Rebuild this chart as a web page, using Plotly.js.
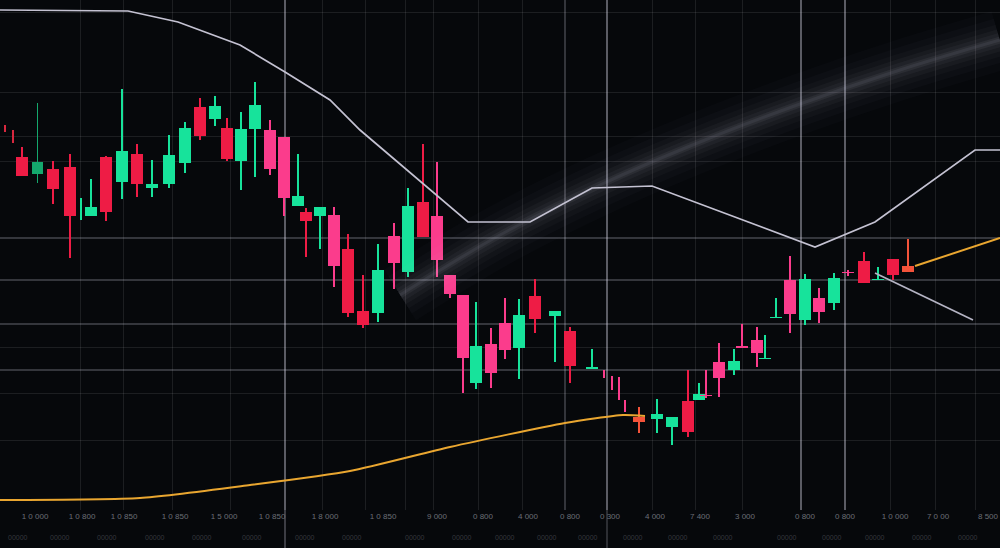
<!DOCTYPE html>
<html>
<head>
<meta charset="utf-8">
<script src="https://cdn.plot.ly/plotly-3.0.1.min.js"></script>
<style>
  html, body { margin: 0; padding: 0; background: #06080b; }
  #chart { width: 1000px; height: 548px; }
</style>
</head>
<body>
<div id="chart"></div>
<script>
// ---------------- DATA ----------------
const t = [0.5, 1.3, 2.2, 3.75, 5.3, 7.0, 8.1, 9.1, 10.6, 12.2, 13.7, 15.2, 16.9, 18.5, 20.0, 21.5, 22.7, 24.1, 25.5,
  27.0, 28.4, 29.8, 30.6, 32.0, 33.4, 34.8, 36.3, 37.8, 39.4, 40.8, 42.3, 43.7, 45.0, 46.3, 47.6, 49.1, 50.5, 51.9,
  53.5, 55.5, 57.0, 59.2, 60.4, 61.2, 61.9, 62.5, 63.9, 65.7, 67.2, 68.8, 69.9, 70.6, 71.9, 73.4, 74.2, 75.7, 76.5,
  77.6, 79.0, 80.5, 81.9, 83.4, 84.8, 86.4, 87.8, 89.3, 90.8];
const open = [38.2, 37.4, 35.3, 33.6, 34.1, 34.3, 30.5, 29.4, 35.3, 32.8, 35.6, 32.2, 32.6, 34.7, 40.3, 39.1, 38.2, 34.9, 38.1,
  38.0, 37.3, 30.4, 29.8, 29.4, 29.5, 26.1, 19.9, 19.7, 27.4, 23.8, 30.8, 29.4, 23.5, 21.5, 12.7, 16.6, 18.7, 16.2,
  21.4, 19.4, 17.9, 14.1, 13.5, 12.7, 12.0, 10.4, 9.3, 9.1, 8.3, 10.9, 11.0, 11.5, 14.8, 14.0, 16.4, 17.0, 15.1,
  19.2, 23.0, 19.0, 21.2, 20.7, 23.8, 24.9, 23.0, 25.1, 24.4];
const high = [38.5, 38.0, 36.3, 40.7, 34.9, 35.6, 31.2, 33.1, 35.4, 42.1, 36.6, 35.0, 37.5, 38.8, 41.2, 41.4, 39.2, 39.8, 42.8,
  39.0, 37.3, 35.6, 30.2, 30.3, 30.3, 27.6, 23.5, 26.6, 28.7, 32.2, 36.6, 34.8, 23.5, 21.5, 20.8, 18.2, 21.2, 21.1,
  23.1, 19.9, 18.3, 16.1, 14.0, 13.4, 13.3, 11.0, 10.3, 11.1, 9.3, 14.0, 12.7, 14.0, 16.7, 16.1, 18.6, 18.3, 17.5,
  21.2, 25.4, 23.6, 22.2, 23.7, 24.0, 25.8, 24.3, 25.1, 27.1];
const low = [37.8, 36.7, 33.4, 32.7, 30.6, 25.2, 29.0, 29.4, 28.9, 31.1, 31.3, 31.3, 32.2, 33.7, 37.0, 38.4, 34.9, 32.0, 33.3,
  33.5, 29.4, 30.4, 25.3, 26.1, 22.3, 19.3, 18.2, 18.8, 22.1, 23.3, 27.3, 23.3, 21.2, 11.7, 12.1, 12.2, 15.1, 13.1,
  17.7, 14.8, 12.7, 14.1, 13.2, 12.0, 11.0, 9.8, 7.7, 7.7, 6.5, 7.3, 11.0, 11.2, 11.3, 13.5, 16.2, 14.3, 15.1,
  19.2, 17.7, 18.5, 18.7, 20.0, 23.4, 22.7, 23.0, 23.0, 23.8];
const close = [38.2, 37.4, 33.4, 34.8, 32.1, 29.4, 30.5, 30.3, 29.8, 35.9, 32.6, 32.6, 35.5, 38.2, 37.4, 40.4, 35.1, 38.1, 40.5,
  34.1, 31.2, 31.4, 28.9, 30.3, 24.4, 19.7, 18.5, 24.0, 24.7, 30.4, 27.3, 25.0, 21.6, 15.2, 16.4, 13.7, 16.0, 19.5,
  19.1, 19.9, 14.4, 14.3, 13.5, 12.7, 12.0, 10.4, 8.8, 9.6, 9.3, 7.8, 11.6, 11.4, 13.2, 14.9, 16.2, 15.7, 15.2,
  19.3, 19.6, 23.1, 19.8, 23.2, 23.7, 22.7, 23.1, 23.5, 23.8];

// Overlay lines
const greyT = [0, 12.8, 17.8, 24.0, 28.5, 33.0, 36.0, 46.8, 53.0, 59.2, 65.2, 81.5, 87.5, 97.5, 100];
const greyV = [50.0, 49.9, 48.8, 46.5, 43.8, 41.0, 38.0, 28.8, 28.8, 32.2, 32.4, 26.3, 28.8, 36.0, 36.0];
const grey2T = [87.5, 97.3];
const grey2V = [23.7, 19.0];
const orangeT = [0, 14.0, 25.0, 35.0, 45.0, 56.5, 62.3, 64.5, null, 91.5, 100];
const orangeV = [1.0, 1.2, 2.5, 3.9, 6.3, 8.7, 9.5, 9.4, null, 24.4, 27.2];
const beamT = [40, 50, 60, 70, 80, 90, 100];
const beamV = [21.5, 27.5, 32.5, 36.8, 40.6, 44.0, 47.0];

// Tick labels
const tickT = [3.5, 8.2, 12.4, 17.5, 22.4, 27.2, 32.5, 38.3, 43.7, 48.3, 52.8, 57.0, 61.0, 65.5, 70.0, 74.5, 80.5, 84.5, 89.5, 93.8, 98.8];
const tickText = ["1 0 000", "1 0 800", "1 0 850", "1 0 850", "1 5 000", "1 0 850", "1 8 000", "1 0 850", "9 000", "0 800",
  "4 000", "0 800", "0 300", "4 000", "7 400", "3 000", "0 800", "0 800", "1 0 000", "7 0 00", "8 500"];
const subT = [1.8, 6.0, 10.7, 15.5, 20.2, 25.2, 30.5, 35.2, 41.5, 46.2, 50.5, 54.7, 58.8, 63.3, 67.8, 72.3, 78.7, 83.2, 87.5, 92.2, 96.8];
const subText = ["00000", "00000", "00000", "00000", "00000", "00000", "00000", "00000", "00000", "00000",
  "00000", "00000", "00000", "00000", "00000", "00000", "00000", "00000", "00000", "00000", "00000"];

// ---------------- STYLE ----------------
const GREEN = '#17e39b', DARK_GREEN = '#14a86d', RED = '#ee1c45', PINK = '#fb3c8c', ORANGE_RED = '#f4533a';
const PINK_IDX = new Set([19, 20, 24, 28, 31, 32, 33, 35, 36, 42, 43, 44, 45, 51, 52, 54, 55, 58, 60, 62]);
const RED_IDX = new Set([0, 1]);
const ORANGE_IDX = new Set([46, 66]);
const DARK_IDX = new Set([3]);
const colors = t.map((_, i) => {
  if (ORANGE_IDX.has(i)) return ORANGE_RED;
  if (DARK_IDX.has(i)) return DARK_GREEN;
  if (RED_IDX.has(i)) return '#d8283f';
  if (PINK_IDX.has(i)) return PINK;
  if (close[i] >= open[i]) return GREEN;
  return RED;
});

const traces = [];
// soft light beam (layered for blur)
[[60, 0.018], [44, 0.022], [32, 0.028], [22, 0.035], [14, 0.045], [7, 0.06], [3, 0.07]].forEach(([w, a]) => {
  traces.push({ type: 'scatter', mode: 'lines', x: beamT, y: beamV, hoverinfo: 'skip',
    line: { color: `rgba(215,215,235,${a})`, width: w, shape: 'spline' } });
});
traces.push({ type: 'scatter', mode: 'lines', x: orangeT, y: orangeV, hoverinfo: 'skip',
  line: { color: '#e9a630', width: 2, shape: 'spline', smoothing: 0.6 } });
traces.push({ type: 'scatter', mode: 'lines', x: greyT, y: greyV, hoverinfo: 'skip',
  line: { color: '#c4c2d2', width: 1.7 } });
traces.push({ type: 'scatter', mode: 'lines', x: grey2T, y: grey2V, hoverinfo: 'skip',
  line: { color: '#b5b4c4', width: 1.7 } });
// wicks
traces.push({ type: 'bar', x: t, base: low, y: high.map((h, i) => h - low[i]), width: 0.16,
  marker: { color: colors, line: { width: 0 } }, hoverinfo: 'skip' });
// bodies
traces.push({ type: 'bar', x: t, base: open.map((o, i) => Math.min(o, close[i])),
  y: open.map((o, i) => Math.abs(close[i] - o)), width: 1.15,
  marker: { color: colors, line: { width: 0 } }, hoverinfo: 'skip' });

const brightX = [28.5, 56.5, 60.7, 80.1, 84.5];
const shapes = brightX.map((x, k) => ({
  type: 'line', xref: 'x', yref: 'paper', x0: x, x1: x, y0: 0, y1: 1, layer: 'below',
  line: { color: k === 1 ? 'rgba(210,210,225,0.30)' : 'rgba(215,215,230,0.55)', width: 1.5 }
}));
shapes.push({ type: 'line', xref: 'x', yref: 'paper', x0: 28.5, x1: 28.5, y0: -0.075, y1: 0, layer: 'below',
  line: { color: 'rgba(215,215,230,0.35)', width: 1.5 } });
shapes.push({ type: 'line', xref: 'x', yref: 'paper', x0: 60.7, x1: 60.7, y0: -0.075, y1: 0, layer: 'below',
  line: { color: 'rgba(215,215,230,0.25)', width: 1.5 } });

const annotations = subT.map((x, i) => ({
  x: x, y: -0.054, xref: 'x', yref: 'paper', text: subText[i], showarrow: false,
  font: { family: 'Liberation Sans, Arial, sans-serif', size: 7, color: '#34373d' }, yanchor: 'middle'
}));

const layout = {
  width: 1000, height: 548,
  margin: { l: 0, r: 0, t: 0, b: 38, pad: 0 },
  paper_bgcolor: '#06080b', plot_bgcolor: '#06080b',
  showlegend: false, barmode: 'overlay', bargap: 0,
  xaxis: {
    range: [0, 100], zeroline: false, showline: false, fixedrange: true,
    tickmode: 'array', tickvals: tickT, ticktext: tickText, ticks: '', showgrid: false,
    tickfont: { family: 'Liberation Sans, Arial, sans-serif', size: 8, color: '#6b6e76' },
    minor: { tickmode: 'array', tickvals: [8.0, 12.3, 17.2, 23.0, 32.2, 36.5, 40.5, 43.3, 47.8, 52.2, 65.2, 69.5, 74.2, 89.0, 93.5, 97.5],
      showgrid: true, gridcolor: 'rgba(255,255,255,0.09)', gridwidth: 1, ticks: '' }
  },
  yaxis: {
    range: [0, 51], zeroline: false, showline: false, showticklabels: false, fixedrange: true,
    tickmode: 'array', tickvals: [27.2, 23.0, 18.6, 14.0], showgrid: true,
    gridcolor: 'rgba(220,220,235,0.22)', gridwidth: 1.5,
    minor: { tickmode: 'array', tickvals: [49.8, 41.8, 37.4, 34.9, 16.3, 11.7, 7.0, 0.1],
      showgrid: true, gridcolor: 'rgba(255,255,255,0.09)', gridwidth: 1, ticks: '' }
  },
  shapes: shapes,
  annotations: annotations
};

Plotly.newPlot('chart', traces, layout, { displayModeBar: false, staticPlot: true });
</script>
</body>
</html>
